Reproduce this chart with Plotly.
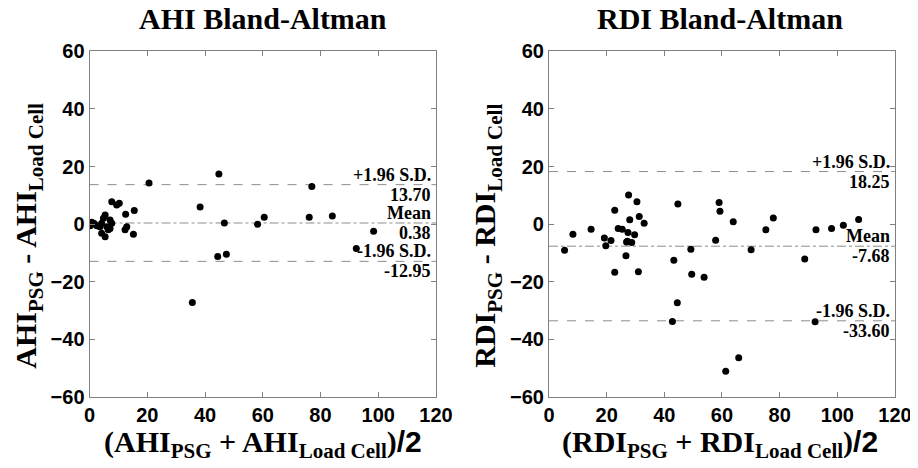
import plotly.graph_objects as go

# ---- AHI data ----
ahi_mean_x = [20.6, 44.8, 38.3, 46.7, 58.2, 60.5, 44.4, 47.4, 35.6, 77.0, 76.1, 84.1, 98.4, 92.4,
              7.7, 9.4, 10.3, 15.5, 12.5, 5.4, 4.8, 7.1, 0.8, 2.5, 0.2, 4.2, 3.6, 6.0, 7.7, 7.1,
              12.9, 12.3, 4.2, 5.4, 15.2, 6.5, 0.8, 1.6]
ahi_diff_y = [14.3, 17.4, 5.9, 0.4, -0.1, 2.4, -11.3, -10.5, -27.2, 13.1, 2.4, 2.8, -2.5, -8.5,
              7.8, 6.6, 7.2, 4.7, 3.4, 3.2, 2.0, 1.4, -0.1, -0.6, -0.6, 0.3, -0.9, -0.9, 0.3, -1.5,
              -0.9, -2.0, -3.2, -4.4, -3.5, -2.0, 0.6, 0.2]
ahi_limits = [13.70, 0.38, -12.95]

# ---- RDI data ----
rdi_mean_x = [5.4, 8.3, 14.6, 19.2, 19.7, 21.5, 22.8, 22.8, 24.0, 25.4, 26.7, 26.9, 28.7, 27.4,
              27.6, 28.0, 29.7, 30.5, 31.0, 31.3, 33.0, 44.7, 43.3, 49.2, 49.5, 53.8, 59.0, 59.3,
              57.8, 63.9, 44.5, 42.8, 61.3, 65.8, 70.1, 75.2, 77.8, 88.7, 92.6, 98.0, 102.1,
              107.4, 92.3, 27.2]
rdi_diff_y = [-9.1, -3.5, -1.8, -4.8, -7.5, -5.7, 4.8, -16.7, -1.5, -1.8, -11.0, -6.2, -6.4, -2.9,
              10.1, 1.5, -3.7, 7.8, -16.6, 2.6, 0.3, 7.0, -12.6, -8.7, -17.4, -18.5, 7.5, 4.5,
              -5.6, 0.8, -27.3, -33.8, -51.1, -46.4, -8.9, -2.0, 2.1, -12.1, -2.0, -1.5, -0.4,
              1.6, -33.9, -6.0]
rdi_limits = [18.25, -7.68, -33.60]

limit_names = ["+1.96 S.D.", "Mean", "-1.96 S.D."]
limit_dash = ["dash", "dashdot", "dash"]

x_ticks = [0, 20, 40, 60, 80, 100, 120]
y_ticks = [-60, -40, -20, 0, 20, 40, 60]

fig = go.Figure()

panels = [
    ("x", "y", ahi_mean_x, ahi_diff_y, ahi_limits),
    ("x2", "y2", rdi_mean_x, rdi_diff_y, rdi_limits),
]

ann_font = dict(family="Liberation Serif", size=18, color="black", weight="bold")

for xa, ya, xs, ys, lims in panels:
    for val, dash in zip(lims, limit_dash):
        fig.add_trace(go.Scatter(x=[0, 120], y=[val, val], mode="lines", xaxis=xa, yaxis=ya,
                                 line=dict(color="#8c8c8c", width=1, dash=dash),
                                 showlegend=False, hoverinfo="skip"))
    fig.add_trace(go.Scatter(x=xs, y=ys, mode="markers", xaxis=xa, yaxis=ya,
                             marker=dict(color="black", size=7), showlegend=False))
    for name, val in zip(limit_names, lims):
        fig.add_annotation(x=120, y=val, xref=xa, yref=ya, text=name, showarrow=False,
                           xanchor="right", yanchor="bottom", xshift=-3, yshift=-2,
                           font=ann_font)
        fig.add_annotation(x=120, y=val, xref=xa, yref=ya, text=f"{val:.2f}", showarrow=False,
                           xanchor="right", yanchor="top", xshift=-3, yshift=2,
                           font=ann_font)

axis_common = dict(range=[0, 120], showline=True, linecolor="#808080", linewidth=1, mirror="ticks",
                   ticks="inside", ticklen=5, tickcolor="#808080", showgrid=False, zeroline=False,
                   automargin=False,
                   tickfont=dict(family="Liberation Sans", size=20, color="black", weight="bold"))

# page body has an 8px margin, so the figure is 8px smaller and everything is shifted by 8px
fig.update_layout(
    width=910, height=460, margin=dict(l=0, r=0, t=0, b=0, pad=0),
    plot_bgcolor="white", paper_bgcolor="white",
    xaxis=dict(axis_common, domain=[0.0896, 0.4703], anchor="y", tickvals=x_ticks),
    yaxis=dict(axis_common, range=[-60, 60], domain=[0.1548, 0.9057], anchor="x", tickvals=y_ticks),
    xaxis2=dict(axis_common, domain=[0.5945, 0.9747], anchor="y2", tickvals=x_ticks),
    yaxis2=dict(axis_common, range=[-60, 60], domain=[0.1548, 0.9057], anchor="x2", tickvals=y_ticks),
)

title_font = dict(family="Liberation Serif", size=30, color="black", weight="bold")
label_font = dict(family="Liberation Serif", size=30, color="black", weight="bold")

def sans(t):
    return f'<span style="font-family:Liberation Sans">{t}</span>'

for cx, title, name, ytx in [(0.2802, "AHI Bland-Altman", "AHI", 0.022),
                             (0.7824, "RDI Bland-Altman", "RDI", 0.5264)]:
    fig.add_annotation(x=cx, y=0.978, xref="paper", yref="paper", text=title, showarrow=False,
                       xanchor="center", yanchor="middle", font=title_font)
    fig.add_annotation(x=cx, y=0.052, xref="paper", yref="paper",
                       text=f"({name}<sub>PSG</sub> + {name}<sub>Load Cell</sub>){sans('/2')}",
                       showarrow=False, xanchor="center", yanchor="middle", font=label_font)
    fig.add_annotation(x=ytx, y=0.505, xref="paper", yref="paper",
                       text=f"{name}<sub>PSG</sub> - {name}<sub>Load Cell</sub>",
                       showarrow=False, textangle=-90, xanchor="center", yanchor="middle",
                       font=label_font)

fig.write_html("out.html")
